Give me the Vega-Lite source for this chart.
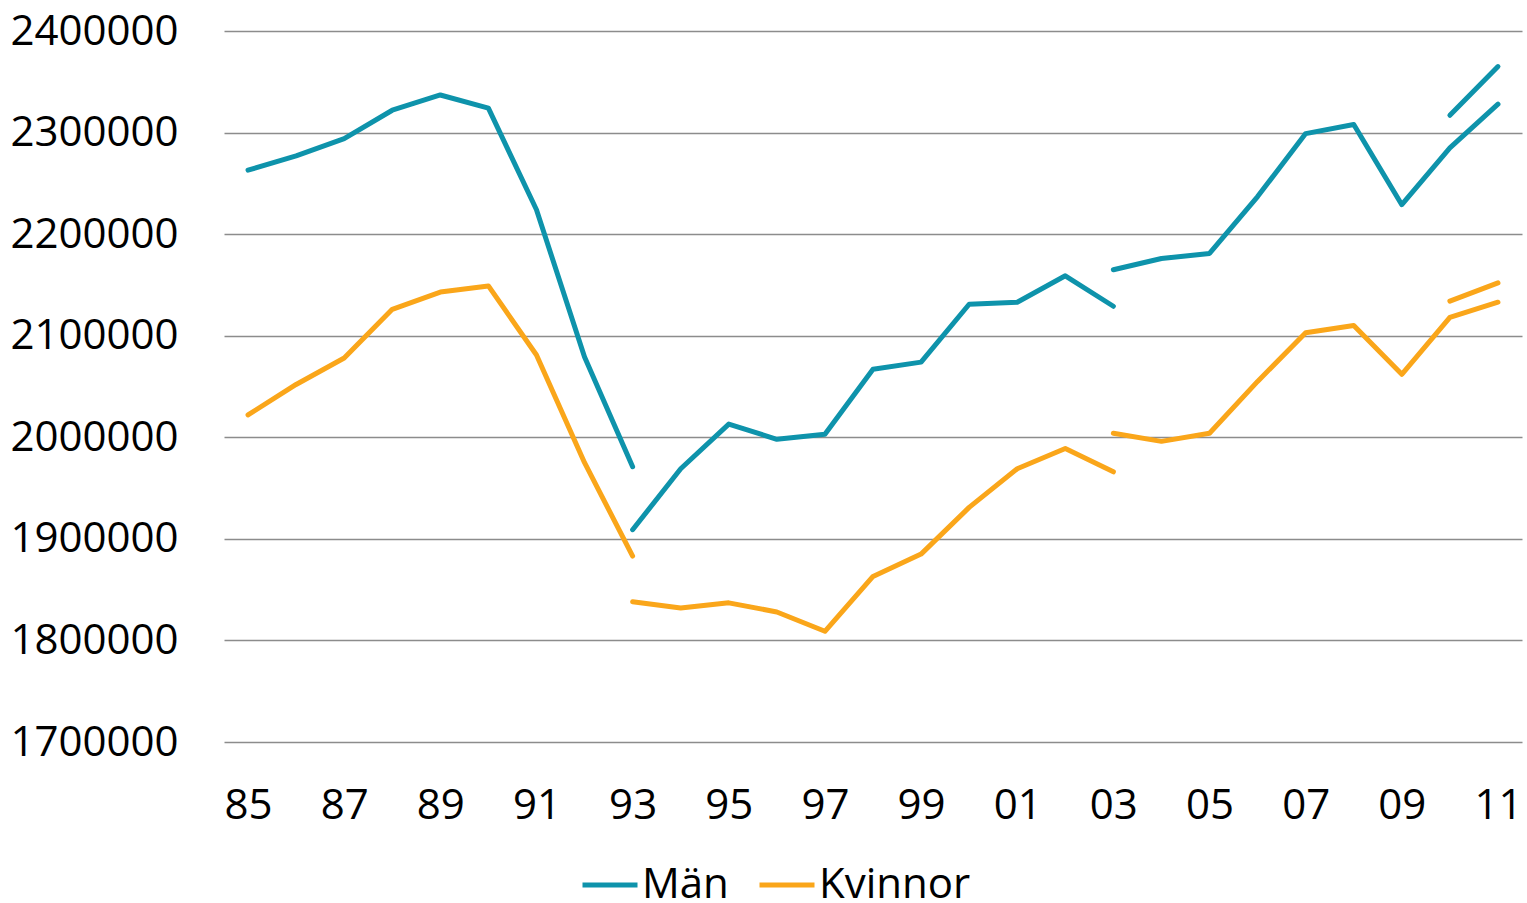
{
"$schema": "https://vega.github.io/schema/vega-lite/v6.json",
"width": 1298, "height": 711,
"autosize": {"type": "none"},
"padding": {"left": 224, "top": 31, "right": 5, "bottom": 161},
"config": {"view": {"stroke": null}, "font": "Open Sans"},
"data": {"values": [
{"year":1985,"value":2263000,"series":"Män","seg":"a"},
{"year":1986,"value":2277000,"series":"Män","seg":"a"},
{"year":1987,"value":2294000,"series":"Män","seg":"a"},
{"year":1988,"value":2322000,"series":"Män","seg":"a"},
{"year":1989,"value":2337000,"series":"Män","seg":"a"},
{"year":1990,"value":2324000,"series":"Män","seg":"a"},
{"year":1991,"value":2224000,"series":"Män","seg":"a"},
{"year":1992,"value":2079000,"series":"Män","seg":"a"},
{"year":1993,"value":1971000,"series":"Män","seg":"a"},
{"year":1993,"value":1909000,"series":"Män","seg":"b"},
{"year":1994,"value":1969000,"series":"Män","seg":"b"},
{"year":1995,"value":2013000,"series":"Män","seg":"b"},
{"year":1996,"value":1998000,"series":"Män","seg":"b"},
{"year":1997,"value":2003000,"series":"Män","seg":"b"},
{"year":1998,"value":2067000,"series":"Män","seg":"b"},
{"year":1999,"value":2074000,"series":"Män","seg":"b"},
{"year":2000,"value":2131000,"series":"Män","seg":"b"},
{"year":2001,"value":2133000,"series":"Män","seg":"b"},
{"year":2002,"value":2159000,"series":"Män","seg":"b"},
{"year":2003,"value":2129000,"series":"Män","seg":"b"},
{"year":2003,"value":2165000,"series":"Män","seg":"c"},
{"year":2004,"value":2176000,"series":"Män","seg":"c"},
{"year":2005,"value":2181000,"series":"Män","seg":"c"},
{"year":2006,"value":2237000,"series":"Män","seg":"c"},
{"year":2007,"value":2299000,"series":"Män","seg":"c"},
{"year":2008,"value":2308000,"series":"Män","seg":"c"},
{"year":2009,"value":2229000,"series":"Män","seg":"c"},
{"year":2010,"value":2285000,"series":"Män","seg":"c"},
{"year":2011,"value":2328000,"series":"Män","seg":"c"},
{"year":2010,"value":2317000,"series":"Män","seg":"d"},
{"year":2011,"value":2365000,"series":"Män","seg":"d"},
{"year":1985,"value":2022000,"series":"Kvinnor","seg":"a"},
{"year":1986,"value":2052000,"series":"Kvinnor","seg":"a"},
{"year":1987,"value":2078000,"series":"Kvinnor","seg":"a"},
{"year":1988,"value":2126000,"series":"Kvinnor","seg":"a"},
{"year":1989,"value":2143000,"series":"Kvinnor","seg":"a"},
{"year":1990,"value":2149000,"series":"Kvinnor","seg":"a"},
{"year":1991,"value":2081000,"series":"Kvinnor","seg":"a"},
{"year":1992,"value":1975000,"series":"Kvinnor","seg":"a"},
{"year":1993,"value":1883000,"series":"Kvinnor","seg":"a"},
{"year":1993,"value":1838000,"series":"Kvinnor","seg":"b"},
{"year":1994,"value":1832000,"series":"Kvinnor","seg":"b"},
{"year":1995,"value":1837000,"series":"Kvinnor","seg":"b"},
{"year":1996,"value":1828000,"series":"Kvinnor","seg":"b"},
{"year":1997,"value":1809000,"series":"Kvinnor","seg":"b"},
{"year":1998,"value":1863000,"series":"Kvinnor","seg":"b"},
{"year":1999,"value":1885000,"series":"Kvinnor","seg":"b"},
{"year":2000,"value":1931000,"series":"Kvinnor","seg":"b"},
{"year":2001,"value":1969000,"series":"Kvinnor","seg":"b"},
{"year":2002,"value":1989000,"series":"Kvinnor","seg":"b"},
{"year":2003,"value":1966000,"series":"Kvinnor","seg":"b"},
{"year":2003,"value":2004000,"series":"Kvinnor","seg":"c"},
{"year":2004,"value":1996000,"series":"Kvinnor","seg":"c"},
{"year":2005,"value":2004000,"series":"Kvinnor","seg":"c"},
{"year":2006,"value":2055000,"series":"Kvinnor","seg":"c"},
{"year":2007,"value":2103000,"series":"Kvinnor","seg":"c"},
{"year":2008,"value":2110000,"series":"Kvinnor","seg":"c"},
{"year":2009,"value":2062000,"series":"Kvinnor","seg":"c"},
{"year":2010,"value":2118000,"series":"Kvinnor","seg":"c"},
{"year":2011,"value":2133000,"series":"Kvinnor","seg":"c"},
{"year":2010,"value":2134000,"series":"Kvinnor","seg":"d"},
{"year":2011,"value":2152000,"series":"Kvinnor","seg":"d"}
]},
"mark": {"type": "line", "strokeWidth": 5, "strokeCap": "round", "strokeJoin": "round"},
"encoding": {
"x": {"field": "year", "type": "ordinal", "scale": {"type": "point", "padding": 0.5},
"axis": {"values": [1985,1987,1989,1991,1993,1995,1997,1999,2001,2003,2005,2007,2009,2011],
"labelExpr": "substring(toString(datum.value), 2)", "title": null, "ticks": false, "domain": false,
"labelFontSize": 42, "labelPadding": 43, "labelColor": "#000000", "labelAngle": 0}},
"y": {"field": "value", "type": "quantitative",
"scale": {"domain": [1700000, 2400000], "nice": false, "zero": false},
"axis": {"values": [1700000,1800000,1900000,2000000,2100000,2200000,2300000,2400000],
"format": "d", "title": null, "ticks": false, "domain": false, "gridColor": "#8c8c8c", "gridWidth": 1.5,
"labelFontSize": 42, "labelPadding": 46, "labelColor": "#000000"}},
"color": {"field": "series", "type": "nominal",
"scale": {"domain": ["Män", "Kvinnor"], "range": ["#0E93AB", "#FAA61A"]},
"legend": {"title": null, "orient": "none", "legendX": 356, "legendY": 824, "direction": "horizontal",
"symbolType": "stroke", "symbolSize": 3025, "symbolStrokeWidth": 5,
"labelFontSize": 42, "labelColor": "#000000", "labelOffset": 2, "columnPadding": 20}},
"detail": {"field": "seg"}
}
}
